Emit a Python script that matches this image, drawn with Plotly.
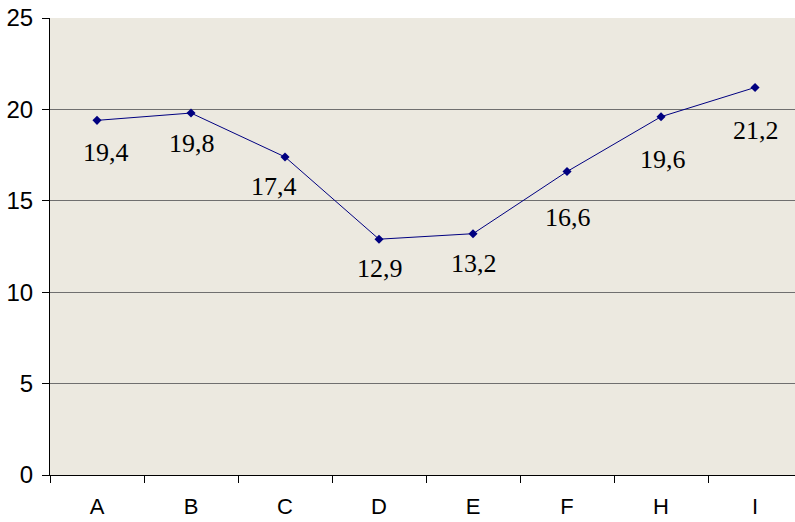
import plotly.graph_objects as go

# Category labels and measured values
categories = ["A", "B", "C", "D", "E", "F", "H", "I"]
values = [19.4, 19.8, 17.4, 12.9, 13.2, 16.6, 19.6, 21.2]
value_labels = ["19,4", "19,8", "17,4", "12,9", "13,2", "16,6", "19,6", "21,2"]
y_ticks = [0, 5, 10, 15, 20, 25]

# Per-point label placement (pixel offsets from the marker)
label_dx = [9, 1, -11, 1, 1, 1, 2, 1]
label_dy = [-32, -30, -30, -29, -30, -46, -43, -43]

fig = go.Figure()
fig.add_trace(go.Scatter(
    x=categories,
    y=values,
    mode="lines+markers",
    line=dict(color="#000080", width=1),
    marker=dict(symbol="diamond", size=7, color="#000080"),
    hoverinfo="skip",
))

for c, v, t, dx, dy in zip(categories, values, value_labels, label_dx, label_dy):
    fig.add_annotation(
        x=c, y=v, text=t, showarrow=False,
        xshift=dx, yshift=dy,
        font=dict(family="Liberation Serif", size=26, color="black"),
    )

fig.update_layout(
    width=795, height=522,
    margin=dict(l=50, r=0, t=18, b=47, autoexpand=False),
    paper_bgcolor="white",
    plot_bgcolor="#ECE9E0",
    showlegend=False,
    font=dict(family="Liberation Sans", size=24, color="black"),
)
fig.update_xaxes(
    type="category",
    range=[-0.5, 7.425],
    tickson="boundaries",
    ticks="outside", ticklen=7, tickcolor="black", tickwidth=1,
    showline=True, linecolor="black", linewidth=1,
    showgrid=False,
    automargin=False,
    ticklabelstandoff=12,
    tickfont=dict(size=22),
)
fig.update_yaxes(
    range=[0, 25],
    tickvals=y_ticks,
    ticks="outside", ticklen=7, tickcolor="black", tickwidth=1,
    showline=True, linecolor="black", linewidth=1,
    showgrid=True, gridcolor="#6f6f6f", gridwidth=1,
    zeroline=False,
    automargin=False,
    ticklabelstandoff=4,
    tickfont=dict(size=24),
)

fig.write_html("out.html")
